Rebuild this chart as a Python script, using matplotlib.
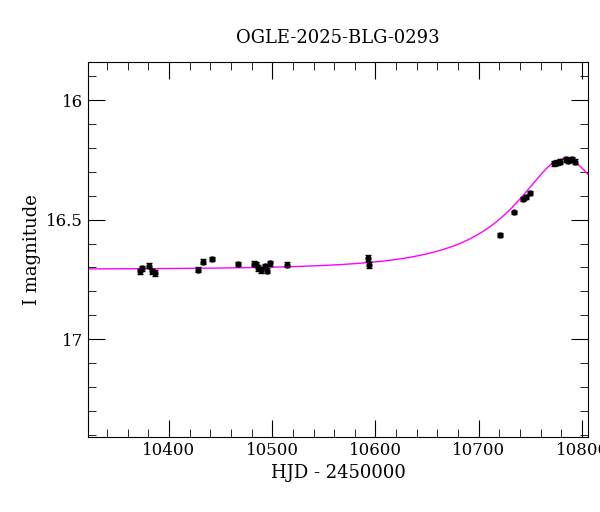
import numpy as np
import matplotlib.pyplot as plt
from matplotlib.ticker import MultipleLocator

# Photometry (HJD - 2450000, I mag, error)
hjd = [10371.6, 10374.0, 10380.6, 10383.9, 10386.0, 10428.0, 10433.0, 10441.6,
       10466.8, 10482.0, 10484.5, 10486.0, 10489.4, 10492.6, 10494.9, 10498.0,
       10514.5, 10592.6, 10593.6, 10720.4, 10734.3, 10742.4, 10745.6, 10749.5,
       10772.7, 10775.3, 10778.5, 10784.3, 10786.6, 10789.9, 10793.1]
mag = [16.717, 16.703, 16.693, 16.717, 16.724, 16.710, 16.676, 16.665,
       16.686, 16.685, 16.686, 16.703, 16.710, 16.696, 16.713, 16.682,
       16.689, 16.661, 16.690, 16.564, 16.470, 16.415, 16.404, 16.390,
       16.264, 16.262, 16.257, 16.248, 16.253, 16.248, 16.257]
err = [0.010, 0.010, 0.010, 0.012, 0.012, 0.010, 0.010, 0.010,
       0.010, 0.010, 0.010, 0.012, 0.012, 0.012, 0.012, 0.010,
       0.010, 0.012, 0.012, 0.010, 0.008, 0.008, 0.008, 0.008,
       0.010, 0.010, 0.010, 0.010, 0.010, 0.010, 0.010]

# blended PSPL model parameters
t0, tE, u0, I0, fs = 10783.0, 111.0, 0.38, 16.708, 0.3

def pspl(t):
    u = np.sqrt(u0**2 + ((t - t0) / tE)**2)
    A = (u**2 + 2) / (u * np.sqrt(u**2 + 4))
    return I0 - 2.5 * np.log10(fs * A + 1 - fs)

plt.rcParams['font.family'] = 'DejaVu Serif'
fig = plt.figure(figsize=(6, 5.12), dpi=100)
ax = fig.add_axes([0.1467, 0.1465, 0.8333, 0.7324])

tt = np.linspace(10321, 10806, 600)
ax.plot(tt, pspl(tt), color='magenta', lw=1)
ax.errorbar(hjd, mag, yerr=err, fmt='o', color='black', ms=3.5, capsize=2, elinewidth=0.8)

ax.set_xlim(10321.6, 10805.8)
ax.set_ylim(17.41, 15.84)
ax.xaxis.set_major_locator(MultipleLocator(100))
ax.xaxis.set_minor_locator(MultipleLocator(20))
ax.yaxis.set_major_locator(MultipleLocator(0.5))
ax.yaxis.set_minor_locator(MultipleLocator(0.1))
ax.yaxis.set_major_formatter(plt.FuncFormatter(lambda v, p: f'{v:g}'))
ax.tick_params(which='both', direction='in', top=True, right=True, labelsize=12)
ax.tick_params(which='major', length=12)
ax.tick_params(which='minor', length=6)
ax.set_xlabel('HJD - 2450000', fontsize=13)
ax.set_ylabel('I magnitude', fontsize=13)
ax.set_title('OGLE-2025-BLG-0293', fontsize=13, pad=14)

plt.savefig('out.png', dpi=100)
